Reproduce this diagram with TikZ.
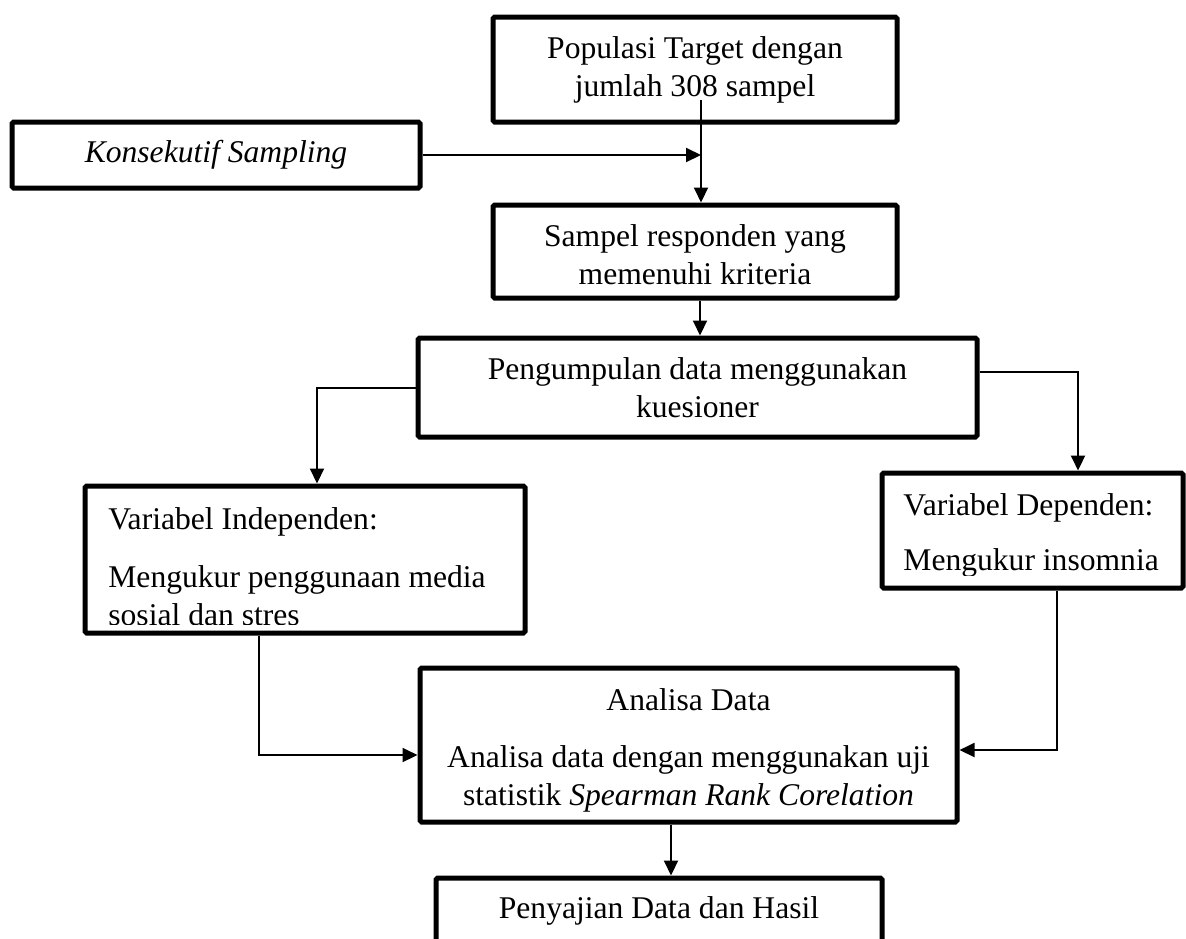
\documentclass[tikz,border=0pt]{standalone}
\usepackage{fontspec}
\setmainfont{Liberation Serif}
\usetikzlibrary{arrows.meta}

\begin{document}
\begin{tikzpicture}[x=0.5pt,y=-0.5pt,
        box/.style={draw,line width=2.5pt,rounded corners=0.8pt,inner sep=0pt,
                    align=center,font=\fontsize{15.8}{19}\selectfont},
        conn/.style={line width=1pt,-{Triangle[length=7.5pt,width=7pt]}},
        boxtext/.style={inner sep=0pt,anchor=north west,align=left,
                    font=\fontsize{15.8}{19}\selectfont}]

      % Frame
      \useasboundingbox (0,0) rectangle (1186,938);

      % Boxes
      \node[box,minimum width=202pt,minimum height=52.5pt] (pop) at (695,69.5)
            {Populasi Target dengan\\jumlah 308 sampel};
      \node[box,minimum width=204pt,minimum height=33pt] (kons) at (216,155)
            {\textit{Konsekutif Sampling}};
      \node[box,minimum width=202pt,minimum height=46.5pt] (samp) at (695,251.5)
            {\rule{0pt}{14.5pt}Sampel responden yang\\memenuhi kriteria};
      \node[box,minimum width=279.5pt,minimum height=49.5pt] (kumpul) at (697.5,387.5)
            {Pengumpulan data menggunakan\\kuesioner};
      \node[box,minimum width=220pt,minimum height=73.5pt] (indep) at (305,559.5) {};
      \node[box,minimum width=150.5pt,minimum height=57.5pt] (dep) at (1032.5,530.5) {};
      \node[box,minimum width=268.5pt,minimum height=77pt] (anal) at (688.5,745)
            {\rule{0pt}{16pt}Analisa Data\\[9.5pt]Analisa data dengan menggunakan uji\\
             statistik \textit{Spearman Rank Corelation}};
      \node[box,minimum width=223pt,minimum height=33pt] (saji) at (659,911)
            {Penyajian Data dan Hasil};

      % Texts cut off by the box
      \begin{scope}
        \clip (indep.north west) rectangle ([yshift=5.5pt]indep.south east);
        \node[boxtext] (indeptext) at (108,507)
              {Variabel Independen:\\[10pt]Mengukur penggunaan media\\sosial dan stres};
      \end{scope}
      \begin{scope}
        \clip (dep.north west) rectangle ([yshift=7.5pt]dep.south east);
        \node[boxtext] (deptext) at (903,493)
              {Variabel Dependen:\\[8.5pt]Mengukur insomnia};
      \end{scope}

      % Arrows
      \coordinate (popdrop) at (701,100);
      \coordinate (join) at (701,155);
      \draw[conn] (kons.east) -- (join);
      \draw[conn] (popdrop) -- (popdrop |- samp.north);
      \draw[conn] ([xshift=2.5pt]samp.south) -- ([xshift=2.5pt]samp.south |- kumpul.north);
      \draw[conn] (kumpul.west) -| ([xshift=6pt]indep.north);
      \draw[conn] ([yshift=7.75pt]kumpul.east) -| ([xshift=22.75pt]dep.north);
      \draw[conn] ([xshift=-23pt]indep.south) |- ([yshift=-5pt]anal.west);
      \draw[conn] ([xshift=12.25pt]dep.south) |- ([yshift=-2.5pt]anal.east);
      \draw[conn] ([xshift=-8.75pt]anal.south) -- ([xshift=-8.75pt]anal.south |- saji.north);
\end{tikzpicture}
\end{document}
